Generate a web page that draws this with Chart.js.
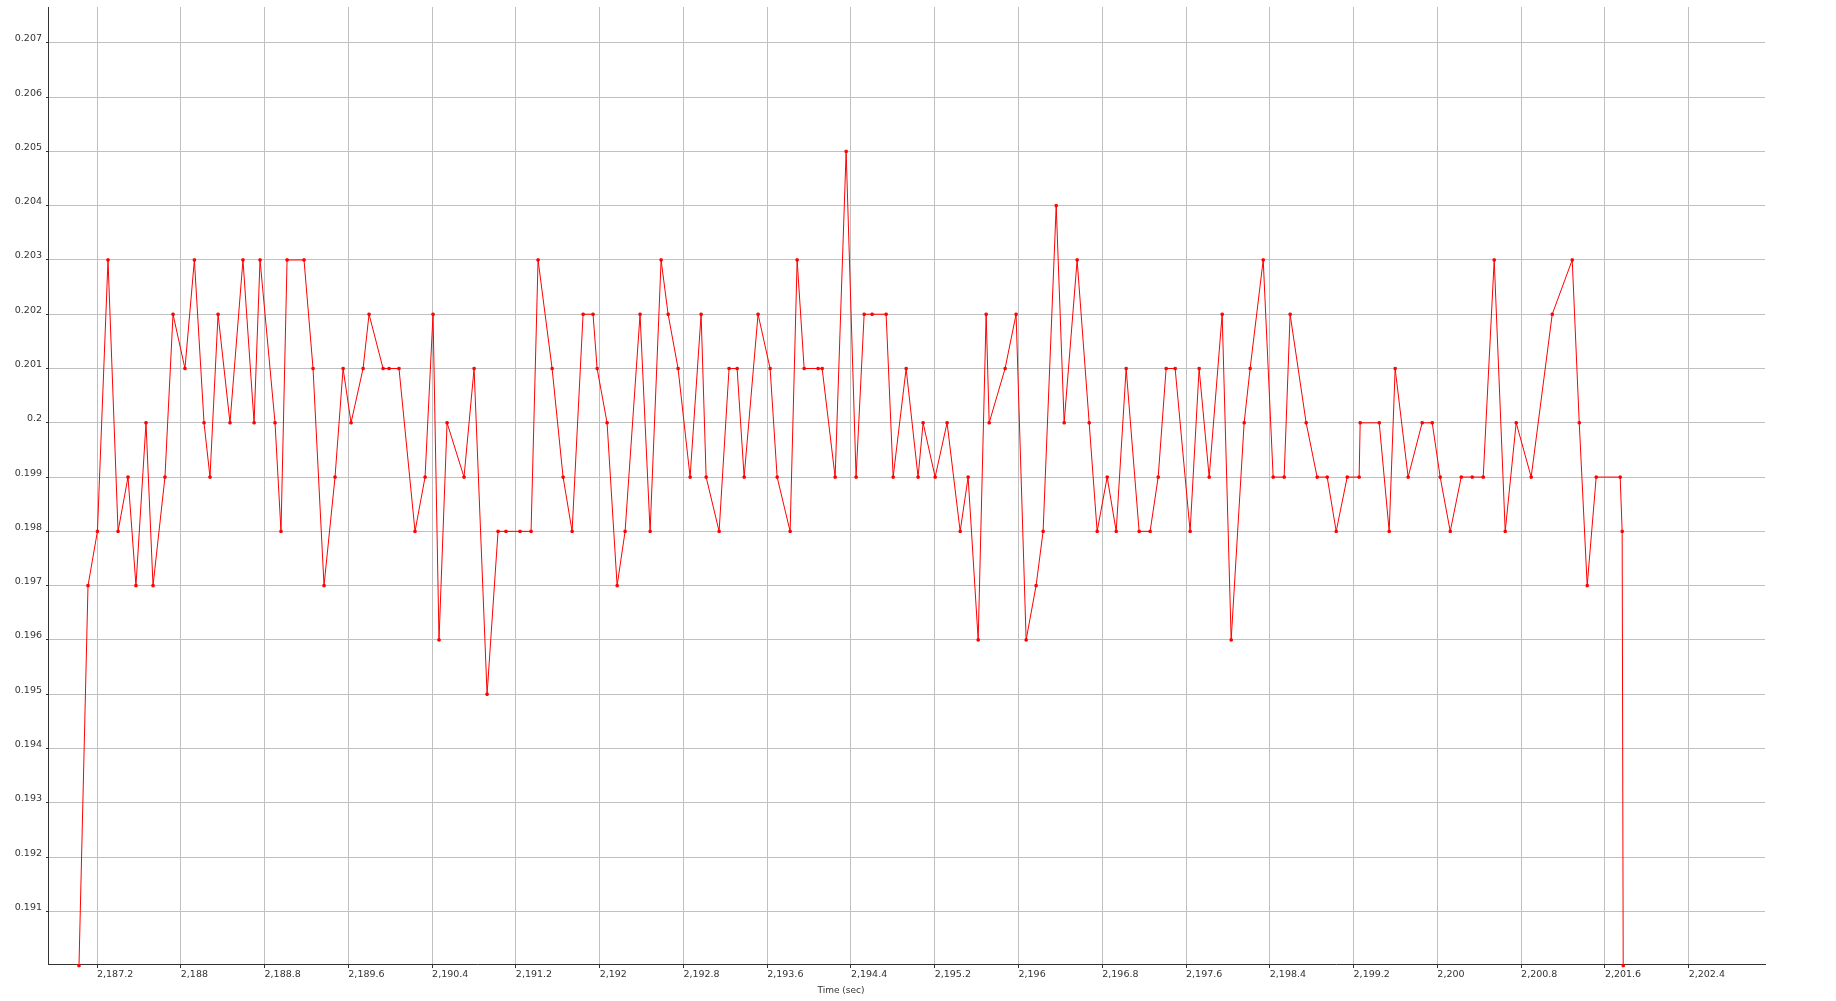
<!DOCTYPE html>
<html>
<head>
<meta charset="utf-8">
<script src="https://cdn.jsdelivr.net/npm/chart.js@4.4.1/dist/chart.umd.min.js"></script>
<style>
    body { margin: 0; background: #fff; }
</style>
</head>
<body>
<canvas id="canvas" width="1836" height="1001"></canvas>
<script>
// time (sec) of each sample
let times = [
    2187.028, 2187.114, 2187.204, 2187.305, 2187.401, 2187.496, 2187.572, 2187.668, 2187.735, 2187.849,
    2187.926, 2188.040, 2188.130, 2188.222, 2188.279, 2188.356, 2188.470, 2188.594, 2188.700, 2188.757,
    2188.900, 2188.957, 2189.015, 2189.177, 2189.263, 2189.368, 2189.473, 2189.550, 2189.626, 2189.741,
    2189.798, 2189.932, 2189.989, 2190.084, 2190.237, 2190.333, 2190.409, 2190.466, 2190.543, 2190.705,
    2190.801, 2190.925, 2191.030, 2191.106, 2191.240, 2191.345, 2191.412, 2191.546, 2191.651, 2191.737,
    2191.842, 2191.937, 2191.976, 2192.071, 2192.167, 2192.243, 2192.386, 2192.482, 2192.587, 2192.654,
    2192.749, 2192.864, 2192.969, 2193.017, 2193.141, 2193.236, 2193.313, 2193.380, 2193.513, 2193.628,
    2193.695, 2193.819, 2193.886, 2193.953, 2194.086, 2194.125, 2194.249, 2194.354, 2194.449, 2194.526,
    2194.602, 2194.736, 2194.803, 2194.927, 2195.041, 2195.089, 2195.204, 2195.318, 2195.443, 2195.519,
    2195.615, 2195.691, 2195.720, 2195.872, 2195.977, 2196.073, 2196.168, 2196.235, 2196.360, 2196.436,
    2196.560, 2196.675, 2196.751, 2196.847, 2196.933, 2197.028, 2197.152, 2197.257, 2197.334, 2197.410,
    2197.496, 2197.639, 2197.725, 2197.821, 2197.945, 2198.031, 2198.155, 2198.212, 2198.337, 2198.432,
    2198.537, 2198.594, 2198.747, 2198.852, 2198.948, 2199.034, 2199.139, 2199.253, 2199.263, 2199.445,
    2199.540, 2199.597, 2199.721, 2199.855, 2199.951, 2200.027, 2200.123, 2200.228, 2200.333, 2200.438,
    2200.543, 2200.648, 2200.753, 2200.896, 2201.097, 2201.288, 2201.355, 2201.431, 2201.517, 2201.746,
    2201.765, 2201.775
];

let values = [
    0.190, 0.197, 0.198, 0.203, 0.198, 0.199, 0.197, 0.200, 0.197, 0.199,
    0.202, 0.201, 0.203, 0.200, 0.199, 0.202, 0.200, 0.203, 0.200, 0.203,
    0.200, 0.198, 0.203, 0.203, 0.201, 0.197, 0.199, 0.201, 0.200, 0.201,
    0.202, 0.201, 0.201, 0.201, 0.198, 0.199, 0.202, 0.196, 0.200, 0.199,
    0.201, 0.195, 0.198, 0.198, 0.198, 0.198, 0.203, 0.201, 0.199, 0.198,
    0.202, 0.202, 0.201, 0.200, 0.197, 0.198, 0.202, 0.198, 0.203, 0.202,
    0.201, 0.199, 0.202, 0.199, 0.198, 0.201, 0.201, 0.199, 0.202, 0.201,
    0.199, 0.198, 0.203, 0.201, 0.201, 0.201, 0.199, 0.205, 0.199, 0.202,
    0.202, 0.202, 0.199, 0.201, 0.199, 0.200, 0.199, 0.200, 0.198, 0.199,
    0.196, 0.202, 0.200, 0.201, 0.202, 0.196, 0.197, 0.198, 0.204, 0.200,
    0.203, 0.200, 0.198, 0.199, 0.198, 0.201, 0.198, 0.198, 0.199, 0.201,
    0.201, 0.198, 0.201, 0.199, 0.202, 0.196, 0.200, 0.201, 0.203, 0.199,
    0.199, 0.202, 0.200, 0.199, 0.199, 0.198, 0.199, 0.199, 0.200, 0.200,
    0.198, 0.201, 0.199, 0.200, 0.200, 0.199, 0.198, 0.199, 0.199, 0.199,
    0.203, 0.198, 0.200, 0.199, 0.202, 0.203, 0.200, 0.197, 0.199, 0.199,
    0.198, 0.190
];

let xTicks = [2187.2, 2188, 2188.8, 2189.6, 2190.4, 2191.2, 2192, 2192.8, 2193.6, 2194.4,
    2195.2, 2196, 2196.8, 2197.6, 2198.4, 2199.2, 2200, 2200.8, 2201.6, 2202.4];
let yTicks = [0.191, 0.192, 0.193, 0.194, 0.195, 0.196, 0.197, 0.198, 0.199, 0.2,
    0.201, 0.202, 0.203, 0.204, 0.205, 0.206, 0.207];

let ctx = document.getElementById('canvas').getContext('2d');

let tickFont = { family: 'DejaVu Sans', size: 9.5 };

// x axis title sits a bit left of the plot centre in the original
let axisTitle = {
    id: 'axisTitle',
    afterDraw: (chart) => {
        let c = chart.ctx;
        c.save();
        c.font = '9px "DejaVu Sans"';
        c.fillStyle = '#333';
        c.textAlign = 'center';
        c.textBaseline = 'middle';
        c.fillText('Time (sec)', 841, 991);
        c.restore();
    }
};

let myLineChart = new Chart(ctx, {
    type: 'line',
    data: {
        datasets: [{
            label: 'value',
            data: times.map((t, i) => ({ x: t, y: values[i] })),
            borderColor: 'rgb(255,0,0)',
            backgroundColor: 'rgb(255,0,0)',
            borderWidth: 1,
            pointStyle: 'rect',
            pointRadius: 1.6,
            pointBorderWidth: 1,
            tension: 0,
            clip: 4,
        }],
    },
    options: {
        responsive: false,
        animation: false,
        layout: { padding: { top: 7, right: 71, left: 0, bottom: 0 } },
        plugins: {
            legend: { display: false },
            tooltip: { enabled: false },
        },
        scales: {
            x: {
                type: 'linear',
                min: 2186.732,
                max: 2203.129,
                afterBuildTicks: (axis) => { axis.ticks = xTicks.map(v => ({ value: v })); },
                afterFit: (axis) => {
                    axis.height = 37;
                    axis.paddingLeft = 0;
                    axis.paddingRight = 0;
                },
                grid: { color: '#c0c0c0', lineWidth: 1, tickColor: '#333', tickLength: 4 },
                border: { color: '#333', width: 1 },
                ticks: {
                    autoSkip: false,
                    maxRotation: 0,
                    align: 'start',
                    padding: 1,
                    color: '#333',
                    font: tickFont,
                    callback: (v) => v.toLocaleString('en-US', { maximumFractionDigits: 1 }),
                },
            },
            y: {
                type: 'linear',
                min: 0.19003,
                max: 0.20766,
                afterBuildTicks: (axis) => { axis.ticks = yTicks.map(v => ({ value: v })); },
                afterFit: (axis) => {
                    axis.width = 48;
                    axis.paddingTop = 0;
                    axis.paddingBottom = 0;
                },
                grid: { color: '#c0c0c0', lineWidth: 1, tickColor: '#333', tickLength: 2 },
                border: { color: '#333', width: 1 },
                ticks: {
                    padding: 4,
                    labelOffset: -4,
                    color: '#333',
                    font: tickFont,
                    callback: (v) => parseFloat(v.toFixed(3)).toString(),
                },
            },
        },
    },
    plugins: [axisTitle],
});
</script>
</body>
</html>
